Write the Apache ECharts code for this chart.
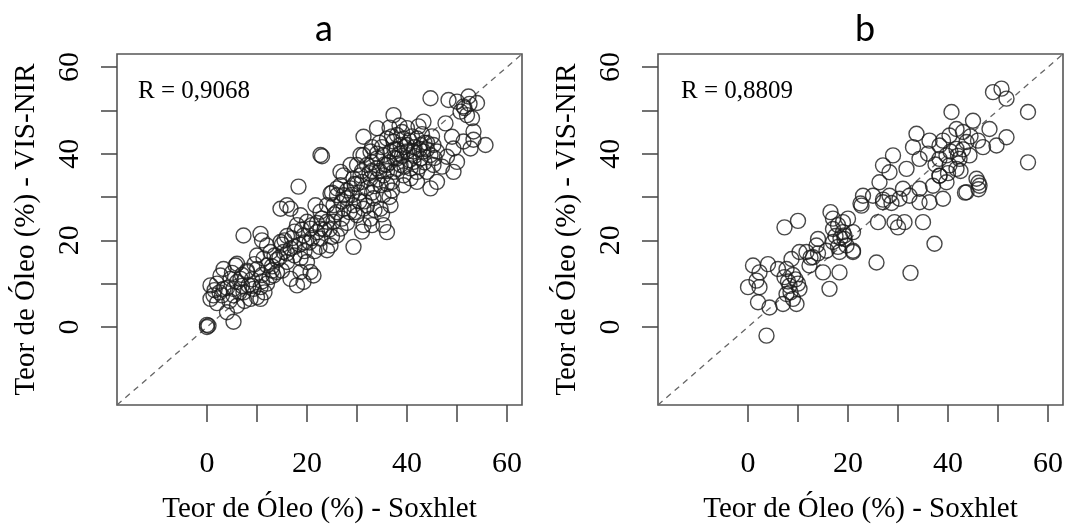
<!DOCTYPE html>
<html><head><meta charset="utf-8">
<script src="https://cdn.jsdelivr.net/npm/echarts@6/dist/echarts.min.js"></script>
<style>html,body{margin:0;padding:0;background:#fff}#c{width:1073px;height:531px}</style>
</head><body><div id="c"></div>
<script>
const panelTitles = ['a', 'b'];
const rLabels = ['R = 0,9068', 'R = 0,8809'];
const axisRange = [-18, 63];
const tickValues = [0, 10, 20, 30, 40, 50, 60];
const tickLabels = [0, 20, 40, 60];
const xTitle = 'Teor de Óleo (%) - Soxhlet';
const yTitle = 'Teor de Óleo (%) - VIS-NIR';

// Panel a: [Soxhlet, VIS-NIR]
const pointsA = [
  [0,0],[0.3,0.3],[0,0.5],[5.3,1.2],[4,3.4],[6,4.9],[0.7,6.5],[0.7,9.6],[1.3,7.3],[2.7,11.9],
  [3,7.3],[3.3,8.8],[3.3,13.4],[4.7,11.1],[5.3,7.3],[5.3,8.8],[5.7,14.2],[6,10.4],[6,14.6],[6.7,11.1],
  [7.3,8],[8,12.7],[8,13],[8.3,9.6],[8.7,6.5],[9.3,8.8],[10,6.9],[10.7,6.5],[10.7,9.2],[10,13.4],
  [10,16.5],[12,14.2],[12.7,17.3],[14,12.7],[13.3,11.9],[11.3,15.8],[12,18.8],[7.3,21.1],[10.7,21.5],[11,20],
  [14.7,19.6],[15.3,17.3],[16,15],[16.7,18.1],[16.7,11.1],[18,9.6],[18.7,15.8],[20,15],[18.7,12.7],[20.7,12.7],
  [19.3,10.4],[21.3,11.9],[14.7,27.3],[16,28.1],[16.7,27.3],[18.3,32.4],[18.7,25.8],[18,23.5],[20,24.3],[20.7,22.7],
  [19.3,21.1],[22,21.9],[22.7,20.4],[24.7,18.8],[25,20.8],[24,17.7],[26,21.1],[21.7,28.1],[24.7,30.8],[26,32],
  [27.3,30.4],[2,10],[4,9],[7,9.5],[9,11],[11,12],[12,10],[13,14],[14,15.5],[15,13],
  [2,5.5],[1.5,8.5],[7.5,6],[9.5,14.5],[11.5,8],[12.5,11.5],[13.5,16.5],[15.5,20],[17,20.5],[17.5,16.5],
  [18.5,19],[19.5,17.5],[20.5,19.5],[21,20.5],[22,24],[23,25],[19,22.5],[17.5,22],[16,21],[15,19],
  [21.5,17.5],[23.5,22.5],[22.5,18.5],
  [22.7,39.7],[23,39.4],[24,28.1],[22.7,26.6],[24,24.3],[25.3,24.3],[26.7,22.7],[22.7,22.7],[27.3,35],[26.7,32.7],
  [28.7,32],[28,29.7],[26,30.4],[25.3,28.1],[27.3,27.3],[29.3,28.1],[30,25.8],[31.3,27.3],[34.7,27.3],[36.7,28.1],
  [32.7,25],[35.3,23.5],[31.3,23.5],[36,21.9],[30,37.4],[30.7,35],[32.7,34.3],[29.3,34.3],[32,32],[34.7,32.7],
  [35.3,30.4],[33.3,29.7],[31.3,39.7],[32.7,40.5],[34,38.9],[32,37.4],[34,36.6],[35.3,39.7],[35.3,35],[30.7,39.7],
  [28.7,37.4],[26.7,35.8],[29.3,18.5],[31,22],[33,23.5],[28,24],[29,30.5],[30.5,31],[31.5,29],[33,31],
  [34,34],[36,33],[35,26],[33.5,27],[30,33],[28.5,26.5],[27,25],[26,26.5],[25,31],[31,36],
  [33,36],[37,31.5],[36.5,30],
  [36,43.5],[37.3,42.8],[38.7,42],[38,44.3],[39.3,43.5],[45.3,42],[46,40.5],[44.7,39.7],[42,43.5],[42.7,42],
  [41.3,40.5],[43.3,40.5],[42.7,38.9],[41.3,38.1],[40,40.5],[36.7,40.5],[38,38.9],[36,37.4],[38.7,37.4],[37.3,35.8],
  [39.3,35],[40.7,36.6],[42,35.8],[40.7,34.3],[39.3,32.7],[37.3,48.9],[43.3,47.4],[42.3,46.3],[31.3,43.9],[34,45.9],
  [40,45.9],[45.3,37.4],[44,35.8],[42,33.5],[44.7,32],[46,33.5],[38,41],[40,42],[41,44],[43,44.5],
  [44,42.5],[39,39.5],[40.5,38.5],[44,41],[45,44],[37.5,39],[35,41.5],[39.5,37],[43.5,38],[36.5,46],
  [38.5,46.5],[41.5,41.5],[42.5,37],[38,36.5],[36,36],[37,33.5],[34.5,42.5],[33,41.5],
  [44.7,52.8],[48.3,52.4],[50,52],[52.3,53.2],[54,51.7],[51.3,50.9],[52,48.9],[53,48.2],[50.7,49.7],[51.5,50.5],
  [52.5,51.5],[47.7,47],[49,43.9],[53.3,45.1],[53.3,43.2],[55.7,42],[51.3,42.8],[52.7,41.2],[49.3,41.2],[48,39.3],
  [50,38.1],[49.3,35.8],
  [29.5,33],[31,33.5],[32.5,35.5],[33.5,32.5],[34.5,36],[35.5,37.5],[36.5,38],[37.5,41],[38.5,40],[39.5,41.5],
  [40.5,43],[41.5,39.5],[42.5,41],[43.5,42.5],[37,44],[39,45],[34,40],[33,38],[30.5,29],[32,28],
  [28,31.5],[27,29],[29.5,26.5],[25.5,26],[24.5,22.5],[21,23.5],[19.5,19.5],[17.5,18.5],[16,17],[14.5,16],
  [13,13],[11,10.5],[9,9.5],[6.5,8],[4.5,6],[2.5,8],[5,12.5],[7,12],[45.5,39],[47,37]
];

// Panel b: [Soxhlet, VIS-NIR]
const pointsB = [
  [3.7,-2],[1,14.2],[4,14.5],[2.3,12.6],[1.7,10.7],[0,9.2],[2.3,9.2],[2,5.7],[4.3,4.5],[6,13.4],
  [7.7,13.4],[7.3,11.5],[8.3,9.5],[7.7,7.6],[9,6.5],[7,5.3],[9.7,5.3],[10.3,8.8],[8.7,15.7],[10.3,17.3],
  [11.7,17.3],[13,16.1],[12.3,14.2],[13.7,18.8],[15.7,17.6],[15,12.6],[18.3,12.6],[16.3,8.8],[17,22.6],[19,21.9],
  [17,19.6],[19.7,18.8],[18.3,17.3],[21,17.3],[19.3,20.3],[14,20.3],[20,25],[7.3,23],[10,24.5],[16.5,26.5],
  [17,25],[18,23.5],[18.5,20.5],[9,12],[8,10.5],[9.5,11],[10,10],[8.5,8],[17.5,21],[18,18.5],
  [12.5,16],[14,17],
  [19,24.2],[19.3,21.1],[21,21.9],[21,17.6],[22.7,28],[23,30.3],[22.5,28.5],[25,30.3],[26,24.2],[29.3,24.2],
  [31.3,24.2],[35,24.2],[30,23],[37.3,19.2],[25.7,14.9],[32.5,12.5],[27,29.4],[28.7,28.6],[27,28.8],[30.3,29.6],
  [32.3,30.3],[36.3,28.8],[39,29.6],[34.3,28.8],[26.3,33.4],[28.3,30.3],[31,31.9],[28.3,35.7],[27,37.3],[29,39.6],
  [31.7,36.5],[34.3,31.9],[34.3,38.8],[37,32.6],[39.7,33.4],[38.3,34.9],[43.7,31.1],[43.4,31],[46.1,33.3],[46.1,31.8],
  [45.7,34.2],[46.3,32.6],
  [33.7,44.6],[33,41.5],[36.3,43],[38.3,41.9],[40.3,44.2],[41.7,45.7],[43,45],[39.7,39.6],[41.7,41.1],[43.7,42.7],
  [44.3,39.6],[42.3,38.8],[40.3,37.3],[38.3,38.8],[41.7,36.5],[38.3,34.9],[40.7,49.6],[45,47.6],[48.3,45.7],[51.7,43.8],
  [49.7,41.9],[47,41.5],[49,54.2],[50.7,55],[51.7,52.7],[56,49.6],[56,38],[40.5,40.5],[42,39.5],[43,41],
  [39,43],[37.5,37.5],[40,35.5],[42.5,36],[44.5,44],[46,43],[36,40]
];

const diagonal = [[axisRange[0], axisRange[0]], [axisRange[1], axisRange[1]]];

const serif = '"Liberation Serif", "DejaVu Serif", serif';
const gridLefts = [117, 658];

function xAxisFor(i) {
  return {
    type: 'value', gridIndex: i, min: axisRange[0], max: axisRange[1],
    axisLine: { show: false, onZero: false },
    splitLine: { show: false },
    axisTick: { show: true, length: 17, customValues: tickValues, lineStyle: { color: '#444', width: 1.5 } },
    axisLabel: { show: true, customValues: tickLabels, margin: 44, color: '#000', fontFamily: serif, fontSize: 30 },
    name: xTitle, nameLocation: 'middle', nameGap: 90,
    nameTextStyle: { color: '#000', fontFamily: serif, fontSize: 29 }
  };
}
function yAxisFor(i) {
  return {
    type: 'value', gridIndex: i, min: axisRange[0], max: axisRange[1],
    axisLine: { show: false, onZero: false },
    splitLine: { show: false },
    axisTick: { show: true, length: 16, customValues: tickValues, lineStyle: { color: '#444', width: 1.5 } },
    axisLabel: { show: true, customValues: tickLabels, rotate: 90, margin: 32, color: '#000', fontFamily: serif, fontSize: 30 },
    name: yTitle, nameLocation: 'middle', nameGap: 76, nameRotate: 90,
    nameTextStyle: { color: '#000', fontFamily: serif, fontSize: 29 }
  };
}
function scatterFor(i, pts) {
  return {
    type: 'scatter', xAxisIndex: i, yAxisIndex: i, data: pts, symbol: 'circle', symbolSize: 15,
    itemStyle: { color: 'rgba(0,0,0,0)', borderColor: '#1a1a1a', borderWidth: 1.4 },
    z: 3, silent: true
  };
}
function diagFor(i) {
  return {
    type: 'line', xAxisIndex: i, yAxisIndex: i, data: diagonal, symbol: 'none',
    lineStyle: { color: '#666', width: 1.3, type: [6, 5] }, z: 2, silent: true
  };
}

const chart = echarts.init(document.getElementById('c'), null, { renderer: 'canvas' });
chart.setOption({
  animation: false,
  backgroundColor: '#fff',
  title: [
    { text: panelTitles[0], left: 319, top: 6, textAlign: 'center', textStyle: { fontFamily: 'Lato, "Open Sans", sans-serif', fontSize: 36, fontWeight: 'normal', color: '#000' } },
    { text: panelTitles[1], left: 860, top: 6, textAlign: 'center', textStyle: { fontFamily: 'Lato, "Open Sans", sans-serif', fontSize: 36, fontWeight: 'normal', color: '#000' } },
    { text: rLabels[0], left: 133, top: 74, textStyle: { fontFamily: serif, fontSize: 25, fontWeight: 'normal', color: '#000' } },
    { text: rLabels[1], left: 676, top: 74, textStyle: { fontFamily: serif, fontSize: 25, fontWeight: 'normal', color: '#000' } }
  ],
  grid: gridLefts.map(l => ({ left: l, top: 54, width: 405, height: 351, show: true, borderColor: '#555', borderWidth: 1.6, backgroundColor: 'transparent' })),
  xAxis: [xAxisFor(0), xAxisFor(1)],
  yAxis: [yAxisFor(0), yAxisFor(1)],
  series: [diagFor(0), scatterFor(0, pointsA), diagFor(1), scatterFor(1, pointsB)]
});
</script></body></html>
